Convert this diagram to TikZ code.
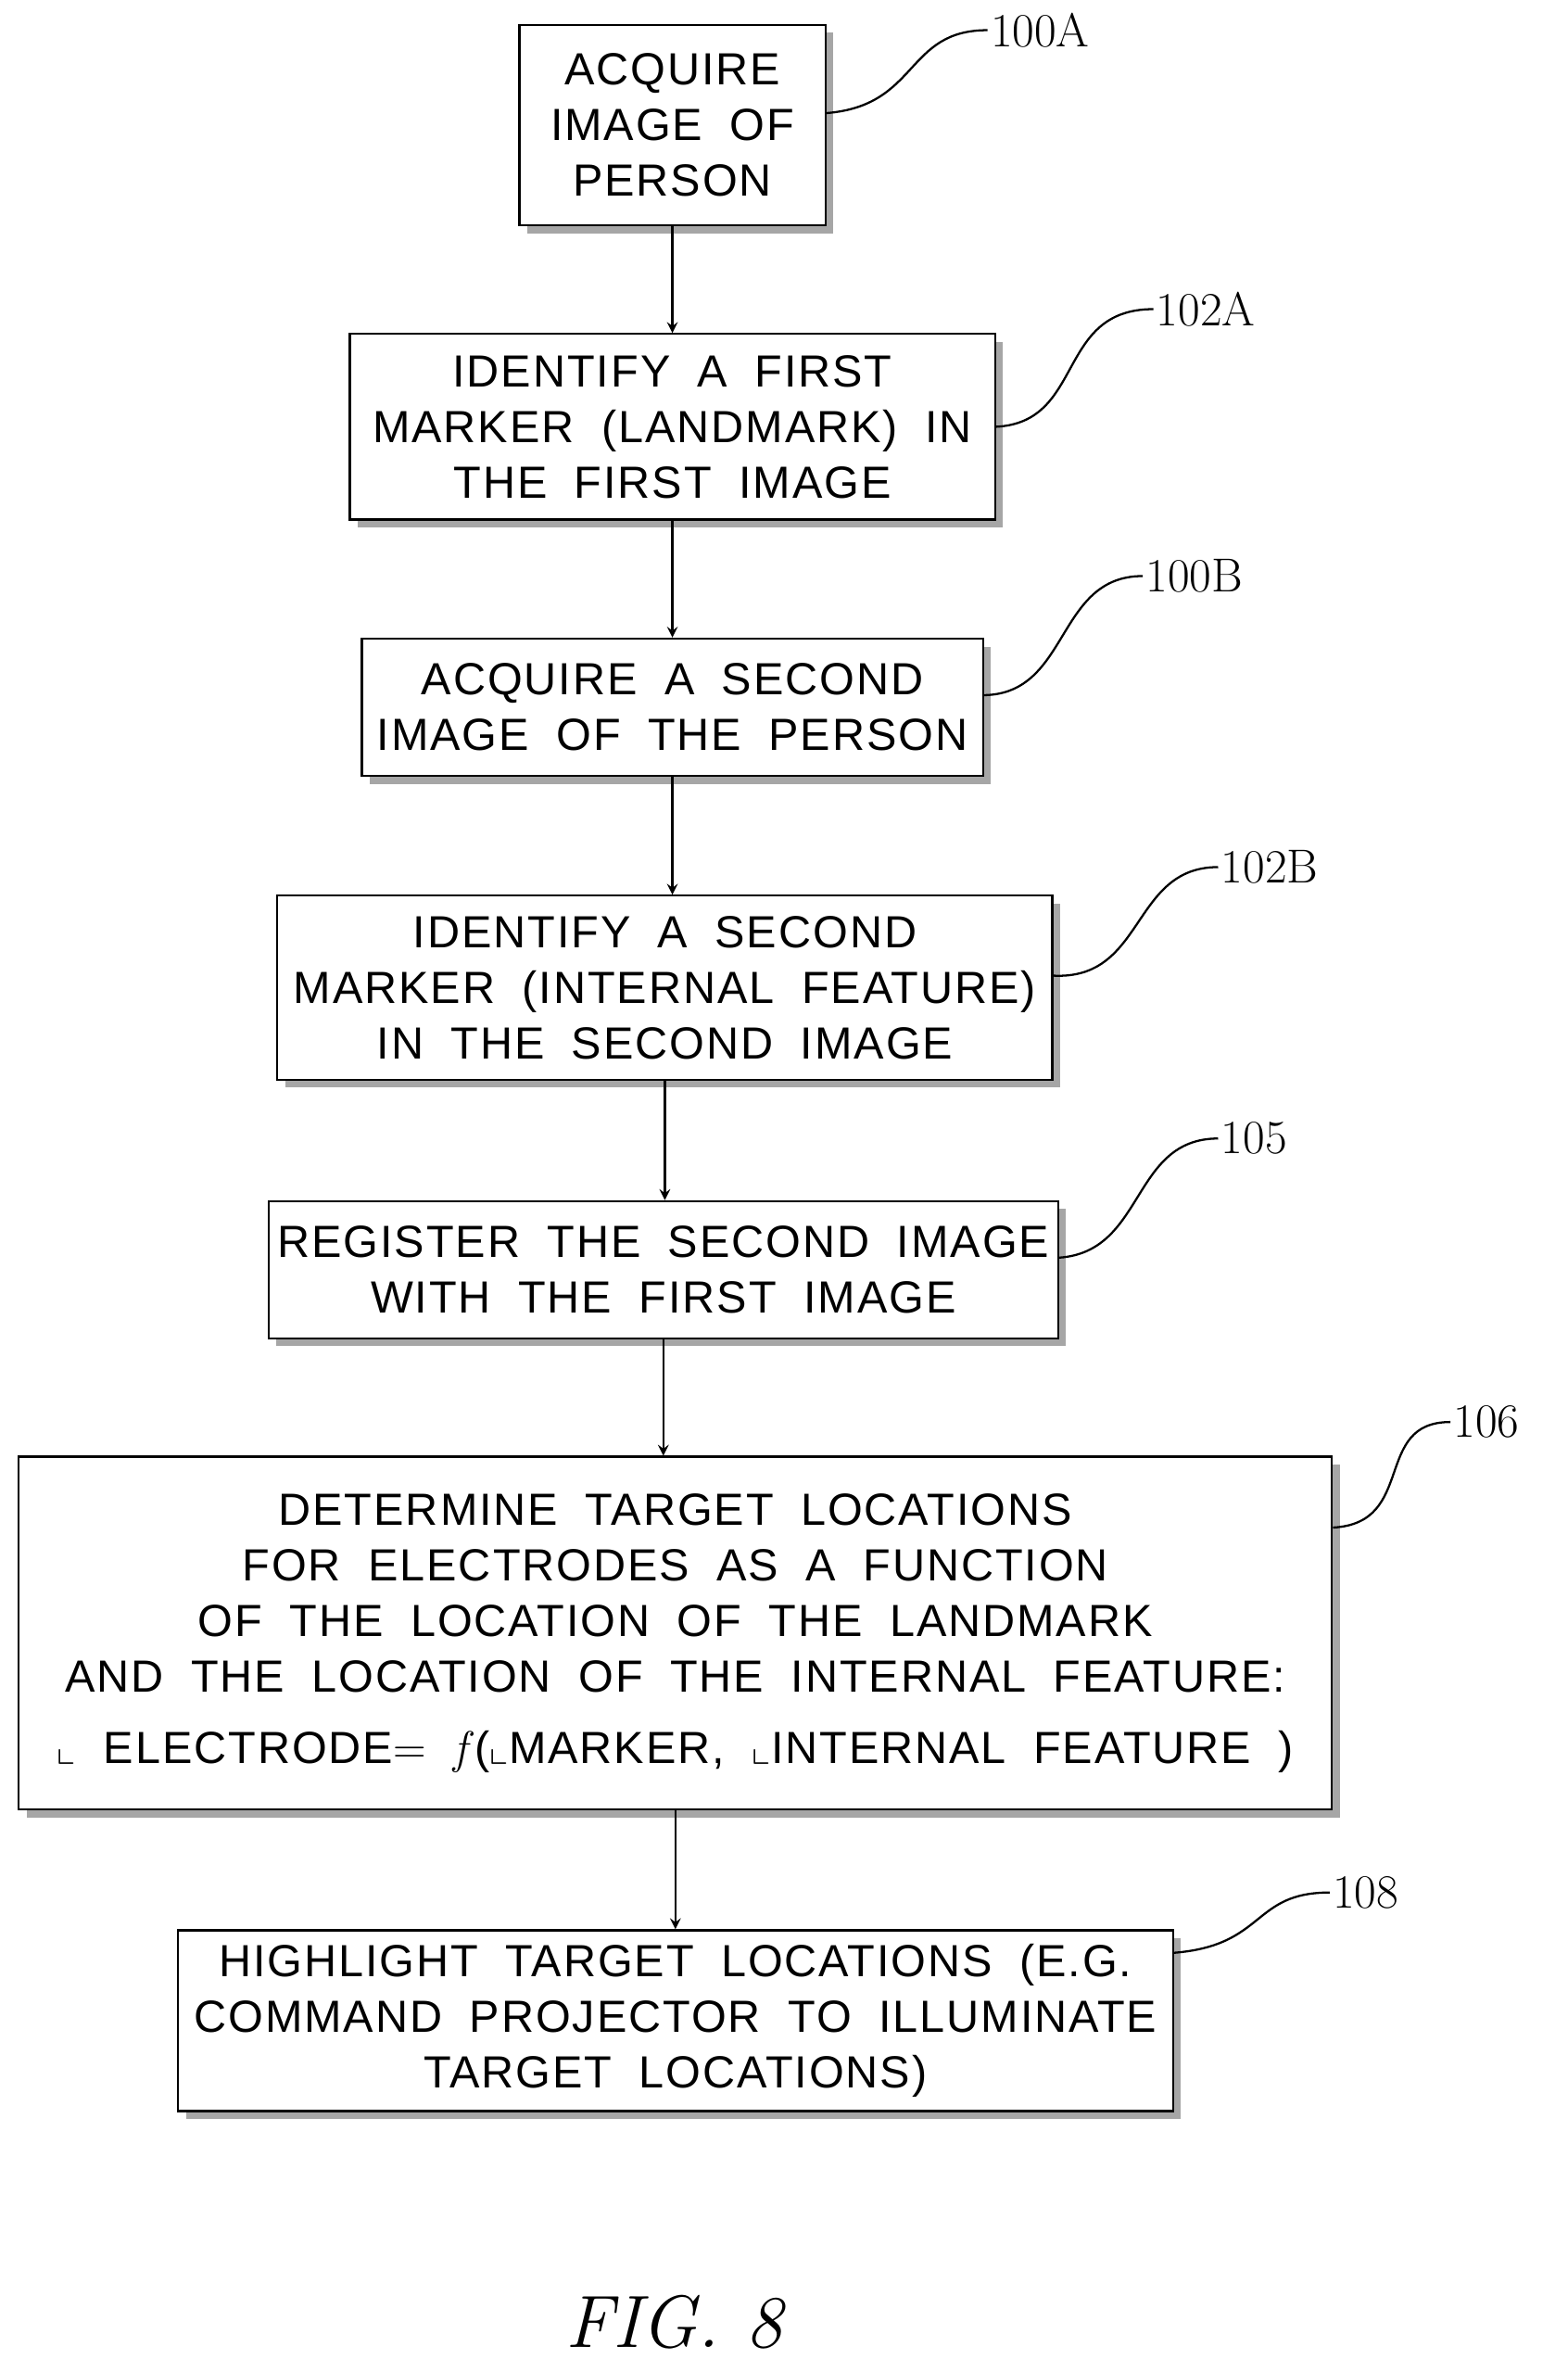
\documentclass[tikz,border=0pt]{standalone}
\usepackage{amssymb}
\usepackage{fontspec}
\setsansfont[LetterSpace=4,WordSpace=1.9]{Liberation Sans}
\usetikzlibrary{shadows}
\tikzset{
  stepbox/.style={draw, thick, fill=white, align=center, font=\sffamily\fontsize{17}{21}\selectfont,
    drop shadow={shadow xshift=3pt, shadow yshift=-3pt, fill=gray!70, opacity=1}},
  flow/.style={->, >=stealth, thick},
  lead/.style={thick},
  tag/.style={font=\fontsize{18}{20}\selectfont, anchor=west, inner sep=1pt}
}
\newcommand{\Lmark}{{\Large$\llcorner$}}
\begin{document}
\begin{tikzpicture}[x=0.02cm, y=-0.02cm]
  \useasboundingbox (0,0) rectangle (1040,1573);
  \node (s1) [stepbox, minimum width=203*0.02cm, minimum height=133*0.02cm] at (446,83)
    {ACQUIRE\\IMAGE OF\\PERSON};
  \node (s2) [stepbox, minimum width=428*0.02cm, minimum height=123*0.02cm] at (446,283)
    {IDENTIFY A FIRST\\MARKER (LANDMARK) IN\\THE FIRST IMAGE};
  \node (s3) [stepbox, minimum width=412*0.02cm, minimum height=91*0.02cm] at (446,469)
    {ACQUIRE A SECOND\\IMAGE OF THE PERSON};
  \node (s4) [stepbox, minimum width=514*0.02cm, minimum height=122*0.02cm] at (441,655)
    {IDENTIFY A SECOND\\MARKER (INTERNAL FEATURE)\\IN THE SECOND IMAGE};
  \node (s5) [stepbox, minimum width=515*0.02cm, minimum height=91*0.02cm] at (440,842)
    {REGISTER THE SECOND IMAGE\\WITH THE FIRST IMAGE};
  \node (s6) [stepbox, minimum width=871*0.02cm, minimum height=234*0.02cm] at (448,1083)
    {DETERMINE TARGET LOCATIONS\\FOR ELECTRODES AS A FUNCTION\\OF THE LOCATION OF THE LANDMARK\\
     AND THE LOCATION OF THE INTERNAL FEATURE:\\[6pt]
     \Lmark\ ELECTRODE$=$ {\rmfamily\itshape\LARGE f\,}(\Lmark MARKER, \Lmark INTERNAL FEATURE )};
  \node (s7) [stepbox, minimum width=660*0.02cm, minimum height=120*0.02cm] at (448,1340)
    {HIGHLIGHT TARGET LOCATIONS (E.G.\\COMMAND PROJECTOR TO ILLUMINATE\\TARGET LOCATIONS)};
  \node (fig) at (447,1540) {\fontsize{28}{32}\selectfont\itshape FIG. 8};

  \draw [flow] (s1.south) -- (s1.south |- s2.north);
  \draw [flow] (s2.south) -- (s2.south |- s3.north);
  \draw [flow] (s3.south) -- (s3.south |- s4.north);
  \draw [flow] (s4.south) -- (s4.south |- s5.north);
  \draw [flow] (s5.south) -- (s5.south |- s6.north);
  \draw [flow] (s6.south) -- (s6.south |- s7.north);

  % reference tags
  \node (t1) [tag] at (655,20) {100A};
  \node (t2) [tag] at (765,205) {102A};
  \node (t3) [tag] at (758,382) {100B};
  \node (t4) [tag] at (808,575) {102B};
  \node (t5) [tag] at (808,755) {105};
  \node (t6) [tag] at (962,943) {106};
  \node (t7) [tag] at (882,1255) {108};
  \draw [lead] (s1.east) ++(0,-8) .. controls (610,70) and (600,20) .. (t1.west);
  \draw [lead] (s2.east) .. controls (720,280) and (700,205) .. (t2.west);
  \draw [lead] (s3.east) ++(0,-8) .. controls (710,460) and (700,382) .. (t3.west);
  \draw [lead] (s4.east) ++(0,-8) .. controls (760,650) and (750,575) .. (t4.west);
  \draw [lead] (s5.east) ++(0,-8) .. controls (760,830) and (750,755) .. (t5.west);
  \draw [lead] (s6.east) ++(0,-70) .. controls (940,1010) and (910,943) .. (t6.west);
  \draw [lead] (s7.east) ++(0,-45) .. controls (840,1290) and (830,1255) .. (t7.west);
\end{tikzpicture}
\end{document}
